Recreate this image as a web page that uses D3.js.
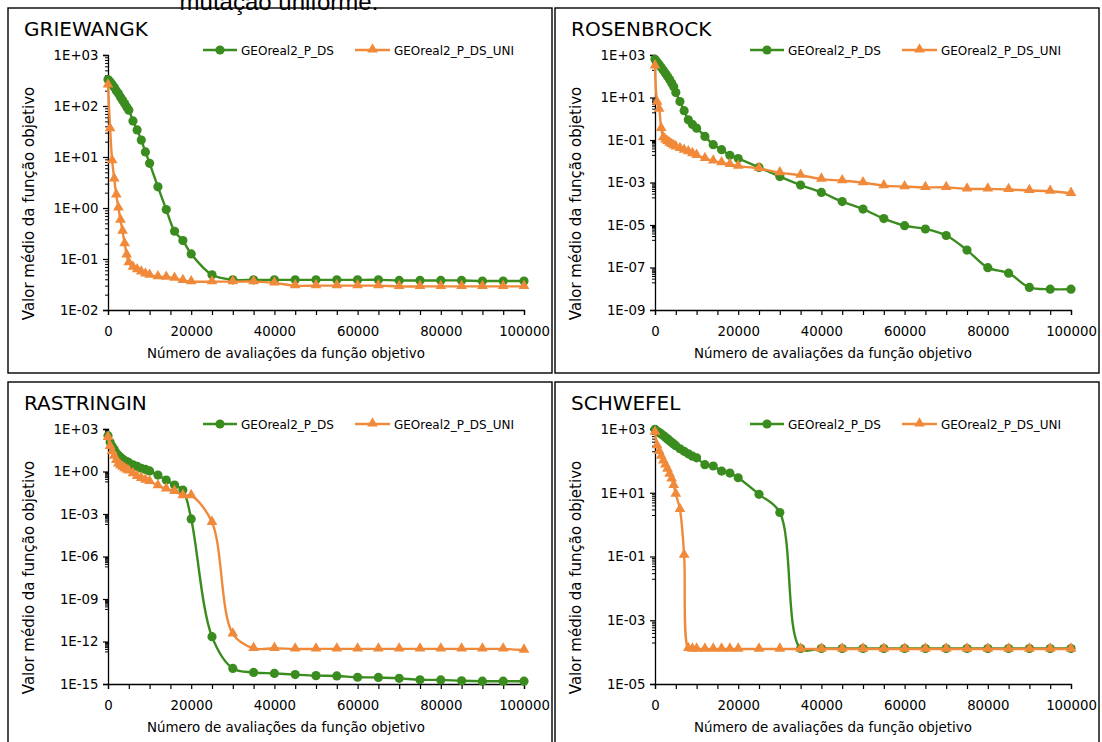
<!DOCTYPE html>
<html>
<head>
<meta charset="utf-8">
<script src="https://cdn.jsdelivr.net/npm/d3@7"></script>
<style>
  body { margin: 0; background: #fff; }
  svg { display: block; }
  text { font-family: "DejaVu Sans", Verdana, sans-serif; fill: #000; }
</style>
</head>
<body>
<svg id="chart" width="1102" height="742"></svg>
<script>
// Number of objective-function evaluations (shared x positions of every series)
const evaluations = [0, 500, 1000, 1500, 2000, 2500, 3000, 3500, 4000, 4500, 5000,
  6000, 7000, 8000, 9000, 10000, 12000, 14000, 16000, 18000, 20000,
  25000, 30000, 35000, 40000, 45000, 50000, 55000, 60000, 65000, 70000,
  75000, 80000, 85000, 90000, 95000, 100000];

const seriesNames = ["GEOreal2_P_DS", "GEOreal2_P_DS_UNI"];

// Mean objective value, GRIEWANGK
const griewangkDS = [330, 300, 265, 232, 200, 175, 150, 130, 112, 96, 83,
  51, 34, 21.5, 12.6, 7.5, 2.6, 0.93, 0.35, 0.23, 0.126,
  0.049, 0.039, 0.039, 0.039, 0.039, 0.039, 0.039, 0.039, 0.039, 0.038,
  0.038, 0.038, 0.038, 0.037, 0.037, 0.037];
const griewangkUNI = [260, 36, 8.5, 3.7, 1.8, 1.0, 0.58, 0.35, 0.2, 0.12, 0.085,
  0.069, 0.062, 0.056, 0.051, 0.048, 0.045, 0.044, 0.042, 0.038, 0.036,
  0.036, 0.036, 0.036, 0.034, 0.030, 0.030, 0.030, 0.030, 0.030, 0.029,
  0.029, 0.029, 0.029, 0.029, 0.029, 0.029];

// Mean objective value, ROSENBROCK
const rosenbrockDS = [630, 470, 350, 260, 190, 140, 100, 70, 48, 32, 17,
  6.4, 2.4, 0.89, 0.54, 0.36, 0.148, 0.06, 0.035, 0.019, 0.0135,
  0.0051, 0.0019, 7.6e-4, 3.4e-4, 1.26e-4, 5.6e-5, 2.0e-5, 9.3e-6, 6.5e-6, 3.2e-6,
  6.6e-7, 9.8e-8, 5.4e-8, 1.15e-8, 9.5e-9, 9.5e-9];
const rosenbrockUNI = [310, 6, 2.8, 0.35, 0.13, 0.1, 0.085, 0.072, 0.062, 0.054, 0.048,
  0.04, 0.033, 0.028, 0.023, 0.019, 0.0135, 0.0104, 0.0085, 0.0071, 0.0059,
  0.0046, 0.0029, 0.0022, 0.00145, 0.00122, 9.8e-4, 7.1e-4, 6.4e-4, 5.9e-4, 5.9e-4,
  5.0e-4, 5.0e-4, 4.7e-4, 4.2e-4, 3.9e-4, 3.1e-4];

// Mean objective value, RASTRINGIN
const rastringinDS = [340, 120, 60, 35, 20, 14, 10, 7.5, 6, 5, 4.2,
  3, 2.3, 1.7, 1.4, 1.1, 0.56, 0.25, 0.11, 0.049, 4.5e-4,
  2.2e-12, 1.26e-14, 6.6e-15, 5.6e-15, 4.6e-15, 3.9e-15, 3.7e-15, 3.0e-15, 2.9e-15, 2.5e-15,
  2.0e-15, 1.95e-15, 1.7e-15, 1.58e-15, 1.58e-15, 1.58e-15];
const rastringinUNI = [260, 60, 25, 12, 6, 3.5, 2.6, 2, 1.6, 1.3, 1.1,
  0.7, 0.45, 0.33, 0.25, 0.2, 0.1, 0.058, 0.04, 0.02, 0.02,
  2.6e-4, 3.4e-12, 3.3e-13, 3.3e-13, 3.0e-13, 3.0e-13, 3.0e-13, 3.0e-13, 3.0e-13, 3.0e-13,
  3.0e-13, 3.0e-13, 3.0e-13, 3.0e-13, 3.0e-13, 2.5e-13];

// Mean objective value, SCHWEFEL
const schwefelDS = [980, 850, 780, 700, 620, 550, 490, 430, 380, 340, 300,
  240, 200, 166, 140, 125, 76, 69, 48, 41.5, 29.5,
  8.9, 2.4, 1.3e-4, 1.3e-4, 1.3e-4, 1.3e-4, 1.3e-4, 1.3e-4, 1.3e-4, 1.3e-4,
  1.3e-4, 1.3e-4, 1.3e-4, 1.3e-4, 1.3e-4, 1.3e-4];
const schwefelUNI = [790, 300, 200, 140, 100, 75, 55, 38, 27, 17, 9,
  3, 0.11, 1.3e-4, 1.25e-4, 1.25e-4, 1.25e-4, 1.25e-4, 1.25e-4, 1.25e-4, 1.25e-4,
  1.25e-4, 1.25e-4, 1.25e-4, 1.25e-4, 1.25e-4, 1.25e-4, 1.25e-4, 1.25e-4, 1.25e-4, 1.25e-4,
  1.25e-4, 1.25e-4, 1.25e-4, 1.25e-4, 1.25e-4, 1.25e-4];

// Labelled powers of ten on each y axis
const griewangkTicks = [3, 2, 1, 0, -1, -2];
const rosenbrockTicks = [3, 1, -1, -3, -5, -7, -9];
const rastringinTicks = [3, 0, -3, -6, -9, -12, -15];
const schwefelTicks = [3, 1, -1, -3, -5];

const xLabelTicks = [0, 20000, 40000, 60000, 80000, 100000];

const panels = [
  { title: "GRIEWANGK", ox: 8, oy: 8, ds: griewangkDS, uni: griewangkUNI, ticks: griewangkTicks },
  { title: "ROSENBROCK", ox: 555, oy: 8, ds: rosenbrockDS, uni: rosenbrockUNI, ticks: rosenbrockTicks },
  { title: "RASTRINGIN", ox: 8, oy: 382, ds: rastringinDS, uni: rastringinUNI, ticks: rastringinTicks },
  { title: "SCHWEFEL", ox: 555, oy: 382, ds: schwefelDS, uni: schwefelUNI, ticks: schwefelTicks }
];

const GREEN = "#3a8c1f";
const ORANGE = "#f08a3a";

const svg = d3.select("#chart");

// caption line of the surrounding document, cut by the top edge
svg.append("text")
  .attr("x", 279).attr("y", 10)
  .attr("text-anchor", "middle")
  .style("font-family", "'Liberation Sans', Arial, sans-serif")
  .style("font-size", "24px")
  .text("mutação uniforme.");

const expLabel = p => "1E" + (p < 0 ? "-" : "+") + String(Math.abs(p)).padStart(2, "0");

panels.forEach(pn => {
  const g = svg.append("g").attr("transform", `translate(${pn.ox},${pn.oy})`);

  // panel frame
  g.append("rect")
    .attr("x", 0).attr("y", 0).attr("width", 544).attr("height", 365)
    .attr("fill", "none").attr("stroke", "#000").attr("stroke-width", 1.4);

  const left = 100, right = 516, top = 47, bottom = 302;
  const pMax = d3.max(pn.ticks), pMin = d3.min(pn.ticks);

  const x = d3.scaleLinear().domain([0, 100000]).range([left, right]);
  const y = d3.scaleLog().domain([Math.pow(10, pMin), Math.pow(10, pMax)]).range([bottom, top]);

  // title
  g.append("text")
    .attr("x", 16).attr("y", 28)
    .style("font-size", "20px")
    .text(pn.title);

  // minor log ticks: 2..9 of the decade just under each labelled power
  const minor = [];
  pn.ticks.filter(p => p > pMin).forEach(p => {
    for (let k = 2; k <= 9; k++) minor.push(k * Math.pow(10, p - 1));
  });
  g.append("g")
    .attr("transform", `translate(${left},0)`)
    .call(d3.axisLeft(y).tickValues(minor).tickSize(3).tickFormat(""))
    .call(a => a.select(".domain").remove())
    .call(a => a.selectAll("line").attr("stroke", "#000").attr("stroke-width", 1));

  // major y ticks and labels
  g.append("g")
    .attr("transform", `translate(${left},0)`)
    .call(d3.axisLeft(y)
      .tickValues(pn.ticks.map(p => Math.pow(10, p)))
      .tickSize(5).tickPadding(4.5)
      .tickFormat(v => expLabel(Math.round(Math.log10(v)))))
    .call(a => a.select(".domain").attr("stroke", "#000").attr("stroke-width", 1.3))
    .call(a => a.selectAll("line").attr("stroke", "#000").attr("stroke-width", 1.2))
    .call(a => a.selectAll("text").style("font-size", "13.3px").style("font-family", "'DejaVu Sans', sans-serif"));

  // x axis
  g.append("g")
    .attr("transform", `translate(0,${bottom})`)
    .call(d3.axisBottom(x)
      .tickValues(d3.range(0, 100001, 5000))
      .tickSize(5).tickPadding(12)
      .tickFormat(v => xLabelTicks.includes(v) ? String(v) : ""))
    .call(a => a.select(".domain").attr("stroke", "#000").attr("stroke-width", 1.3))
    .call(a => a.selectAll("line").attr("stroke", "#000").attr("stroke-width", 1.2))
    .call(a => a.selectAll("text").style("font-size", "13.3px").style("font-family", "'DejaVu Sans', sans-serif"));

  // axis titles
  g.append("text")
    .attr("x", 278).attr("y", 350)
    .attr("text-anchor", "middle")
    .style("font-size", "13.4px")
    .text("Número de avaliações da função objetivo");
  g.append("text")
    .attr("transform", `translate(25.5,195.5) rotate(-90)`)
    .attr("text-anchor", "middle")
    .style("font-size", "15px")
    .text("Valor médio da função objetivo");

  const line = d3.line()
    .x((d, i) => x(evaluations[i]))
    .y(d => y(d))
    .curve(d3.curveCatmullRom.alpha(0.5));

  const tri = d3.symbol().type(d3.symbolTriangle).size(50);

  // DS series (circles)
  g.append("path").datum(pn.ds)
    .attr("d", line).attr("fill", "none")
    .attr("stroke", GREEN).attr("stroke-width", 2.4);
  g.append("g").selectAll("circle").data(pn.ds).join("circle")
    .attr("cx", (d, i) => x(evaluations[i]))
    .attr("cy", d => y(d))
    .attr("r", 4.6).attr("fill", GREEN);

  // UNI series (triangles)
  g.append("path").datum(pn.uni)
    .attr("d", line).attr("fill", "none")
    .attr("stroke", ORANGE).attr("stroke-width", 2.4);
  g.append("g").selectAll("path").data(pn.uni).join("path")
    .attr("transform", (d, i) => `translate(${x(evaluations[i])},${y(d) - 0.5})`)
    .attr("d", tri).attr("fill", ORANGE);

  // legend
  const lg = g.append("g");
  lg.append("line").attr("x1", 195).attr("x2", 229).attr("y1", 42).attr("y2", 42)
    .attr("stroke", GREEN).attr("stroke-width", 2.4);
  lg.append("circle").attr("cx", 212).attr("cy", 42).attr("r", 4.6).attr("fill", GREEN);
  lg.append("text").attr("x", 233).attr("y", 46.5)
    .attr("textLength", 93).attr("lengthAdjust", "spacingAndGlyphs")
    .style("font-size", "13px").text(seriesNames[0]);
  lg.append("line").attr("x1", 347).attr("x2", 382).attr("y1", 42).attr("y2", 42)
    .attr("stroke", ORANGE).attr("stroke-width", 2.4);
  lg.append("path").attr("transform", "translate(364.5,41.5)").attr("d", tri).attr("fill", ORANGE);
  lg.append("text").attr("x", 386).attr("y", 46.5)
    .attr("textLength", 120).attr("lengthAdjust", "spacingAndGlyphs")
    .style("font-size", "13px").text(seriesNames[1]);
});
</script>
</body>
</html>
